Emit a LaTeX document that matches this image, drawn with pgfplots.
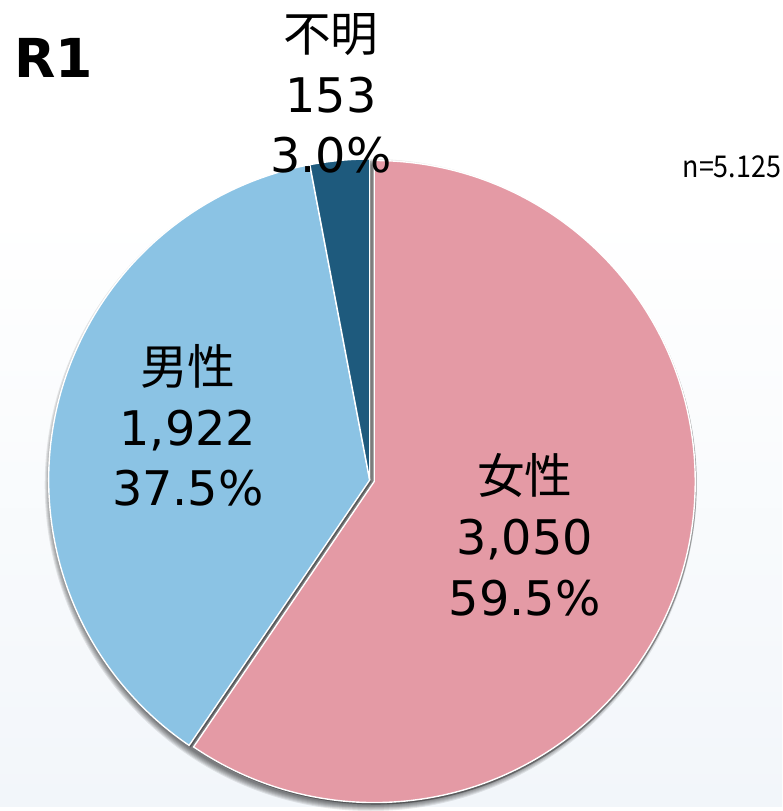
\documentclass[border=0pt]{standalone}
\usepackage{pgfplots}
\pgfplotsset{compat=1.18}
\usepackage{pgfplotstable}
\usepackage{fontspec}
\setmainfont{DejaVu Sans}
\newfontfamily\cjk{Noto Sans CJK JP}

\definecolor{female}{RGB}{228,154,165}
\definecolor{male}{RGB}{139,195,228}
\definecolor{unknown}{RGB}{30,90,125}
\definecolor{bgbottom}{RGB}{242,246,250}

% counts per group
\pgfplotstableread{
sex value
F 3050
M 1922
U 153
}\piedata

\newcommand\pieslice[5]{% cx, cy, start, end, colour
  \fill[#5,draw=white,line width=1.4pt] (axis cs:#1,#2) -- ++(#3:323pt)
    arc[start angle=#3,end angle=#4,radius=323pt] -- cycle;}
\newcommand\pieshadow[4]{%
  \fill[black,opacity=0.3] (axis cs:#1,#2) -- ++(#3:323pt)
    arc[start angle=#3,end angle=#4,radius=323pt] -- cycle;}

\begin{document}
\begin{tikzpicture}
\pgfplotstablegetelem{0}{value}\of\piedata\let\vF\pgfplotsretval
\pgfplotstablegetelem{1}{value}\of\piedata\let\vM\pgfplotsretval
\pgfplotstablegetelem{2}{value}\of\piedata\let\vU\pgfplotsretval
\pgfmathsetmacro\tot{\vF+\vM+\vU}
\pgfmathsetmacro\aB{90-360*(\vF/\tot)}
\pgfmathsetmacro\aC{\aB-360*(\vM/\tot)}
\begin{axis}[
    scale only axis, width=787pt, height=811pt,
    xmin=0, xmax=787, ymin=0, ymax=811,
    hide axis, clip=false]

  % background
  \fill[white] (axis cs:0,600) rectangle (axis cs:787,811);
  \fill[top color=white, bottom color=bgbottom] (axis cs:0,0) rectangle (axis cs:787,600);

  % soft shadow round the pie
  \pgfplotsinvokeforeach{322,323,324,325,326,327,328}{
    \fill[black,opacity=0.09] (axis cs:373,323) circle[radius=#1pt];
  }

  % slice shadows
  \pieshadow{378}{324.5}{90}{\aB}
  \pieshadow{373.5}{326}{\aB}{\aC}
  \pieshadow{373.5}{326}{\aC}{-270}

  % slices
  \pieslice{376.5}{326.5}{90}{\aB}{female}
  \pieslice{372}{328}{\aB}{\aC}{male}
  \pieslice{372}{328}{\aC}{-270}{unknown}

  % labels
  \begin{scope}[every node/.style={align=center,inner sep=0pt,
      font=\fontsize{48}{61}\selectfont}]
    \node at (axis cs:333,717) {{\cjk 不明}\\153\\3.0\%};
    \node at (axis cs:189,383) {{\cjk 男性}\\1,922\\37.5\%};
    \node at (axis cs:528,273) {{\cjk 女性}\\3,050\\59.5\%};
  \end{scope}

  \node[anchor=west,inner sep=0pt,font=\bfseries\fontsize{54}{54}\selectfont]
    at (axis cs:14,753) {R1};
  \node[anchor=east,inner sep=0pt,font=\cjk\fontsize{27}{27}\selectfont]
    at (axis cs:786,643) {\scalebox{1}[1.12]{n=5.125}};
\end{axis}
\end{tikzpicture}
\end{document}
